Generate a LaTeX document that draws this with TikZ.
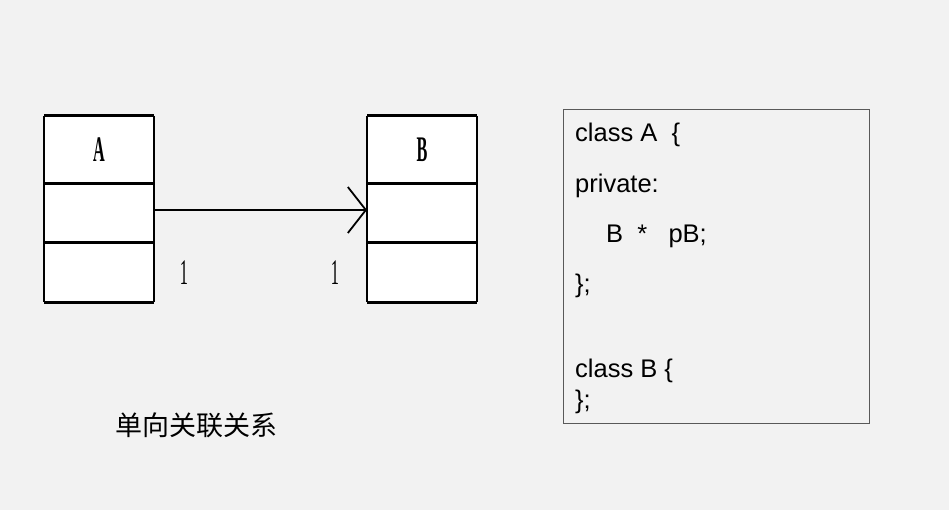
\documentclass[tikz,border=0pt]{standalone}
\usepackage{fontspec}
\setmainfont{Liberation Serif}
\newfontfamily\codefont{Liberation Sans}
\newfontfamily\cjk{Noto Sans CJK SC}
\usetikzlibrary{arrows.meta}
\definecolor{bg}{HTML}{F2F2F2}
\definecolor{frame}{HTML}{595959}
\newcommand{\condensed}[1]{\scalebox{0.45}[1]{\fontsize{36}{36}\selectfont #1}}
\begin{document}
\begin{tikzpicture}[x=1pt,y=-1pt,
  cell/.style={draw=none,fill=white,minimum width=110pt,inner sep=0pt,outer sep=0pt},
  code/.style={font=\codefont\fontsize{25.5}{25.5}\selectfont,anchor=base west,inner sep=0pt}]
\fill[bg] (0,0) rectangle (949,510);
\useasboundingbox (0,0) rectangle (949,510);
% class A
\node[cell,minimum height=68pt] (a1) at (99,150) {\condensed{\bfseries A}};
\node[cell,minimum height=59pt] (a2) at (99,213.5) {};
\node[cell,minimum height=59pt] (a3) at (99,272.5) {};
\draw[line width=1.8pt] (a1.north west) -- (a3.south west) (a1.north east) -- (a3.south east);
\draw[line width=3pt] (a1.north west) -- (a1.north east)
  (a2.north west) -- (a2.north east) (a3.north west) -- (a3.north east)
  (a3.south west) -- (a3.south east);
% class B
\node[cell,minimum height=68pt] (b1) at (422,150) {\condensed{\bfseries B}};
\node[cell,minimum height=59pt] (b2) at (422,213.5) {};
\node[cell,minimum height=59pt] (b3) at (422,272.5) {};
\draw[line width=1.8pt] (b1.north west) -- (b3.south west) (b1.north east) -- (b3.south east);
\draw[line width=3pt] (b1.north west) -- (b1.north east)
  (b2.north west) -- (b2.north east) (b3.north west) -- (b3.north east)
  (b3.south west) -- (b3.south east);
% association
\coordinate (as) at (154,210);
\coordinate (bs) at (367,210);
\draw[line width=1.5pt,-{Straight Barb[length=18pt,width=46pt,line width=1.8pt]}] (as) -- (bs);
\node[inner sep=0pt] (m1) at (184,273) {\condensed{1}};
\node[inner sep=0pt] (m2) at (335,273) {\condensed{1}};
% caption
\node[inner sep=0pt,font=\cjk\fontsize{27}{27}\selectfont] (cap) at (196,425) {单向关联关系};
% code box
\node[draw=frame,line width=0.8pt,fill=bg,minimum width=306pt,minimum height=314pt,inner sep=0pt] (box) at (716,266) {};
\node[code] (l1) at (575,142) {class A\ \ \{};
\node[code] (l2) at (575,193) {private:};
\node[code] (l3) at (575,243) {\hspace{31pt}B\ \ *\ \ \ pB;};
\node[code] (l4) at (575,292) {\};};
\node[code] (l5) at (575,377) {class B \{};
\node[code] (l6) at (575,408) {\};};
\end{tikzpicture}
\end{document}
